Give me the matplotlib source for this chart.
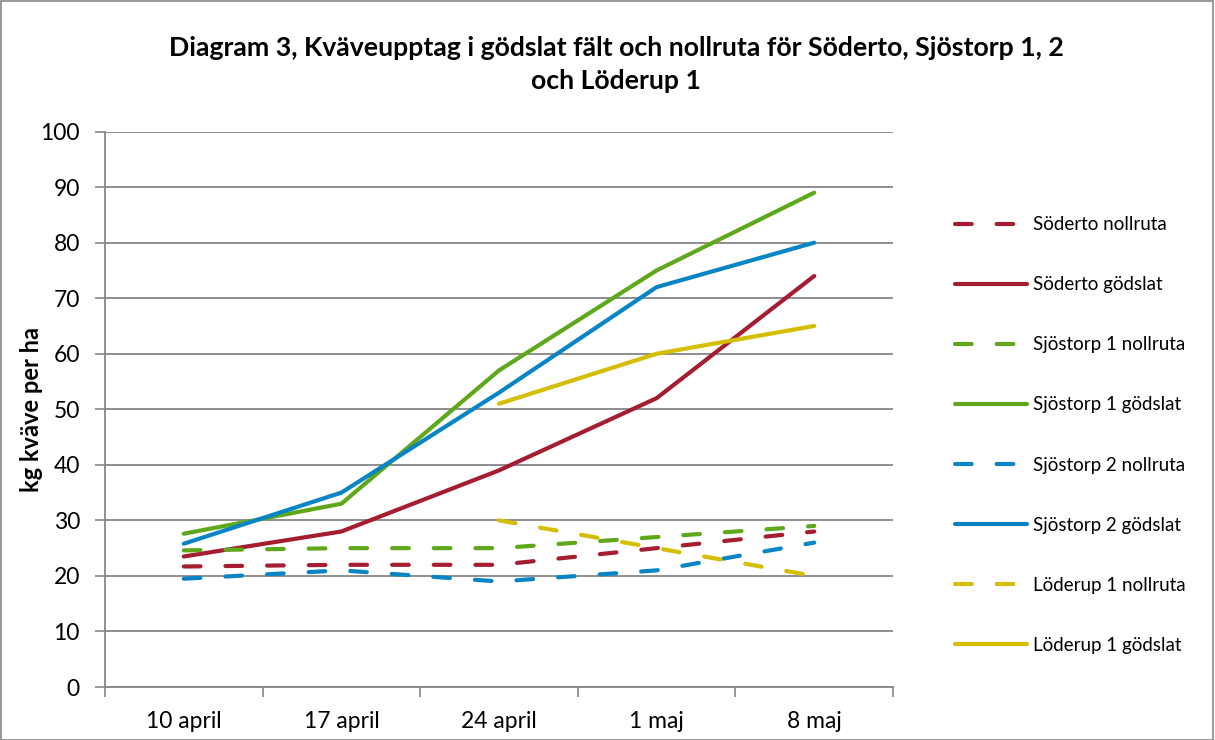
import matplotlib
matplotlib.use("Agg")
import matplotlib.pyplot as plt
import numpy as np
from matplotlib.patches import Rectangle

plt.rcParams['font.family'] = ['Lato', 'DejaVu Sans']

# data
dates = ['10 april', '17 april', '24 april', '1 maj', '8 maj']

soderto_noll = [21.7, 22.0, 22.0, 25.0, 28.0]
soderto_gods = [23.5, 28.0, 39.0, 52.0, 74.0]
sjostorp1_noll = [24.6, 25.0, 25.0, 27.0, 29.0]
sjostorp1_gods = [27.6, 33.0, 57.0, 75.0, 89.0]
sjostorp2_noll = [19.5, 21.0, 19.0, 21.0, 26.0]
sjostorp2_gods = [25.8, 35.0, 53.0, 72.0, 80.0]
loderup1_noll = [np.nan, np.nan, 30.0, 25.0, 20.0]
loderup1_gods = [np.nan, np.nan, 51.0, 60.0, 65.0]

RED = '#A61C31'
GREEN = '#5FA81C'
BLUE = '#0985C6'
YELLOW = '#D5BE00'

series = [
    ('Söderto nollruta', soderto_noll, RED, True),
    ('Söderto gödslat', soderto_gods, RED, False),
    ('Sjöstorp 1 nollruta', sjostorp1_noll, GREEN, True),
    ('Sjöstorp 1 gödslat', sjostorp1_gods, GREEN, False),
    ('Sjöstorp 2 nollruta', sjostorp2_noll, BLUE, True),
    ('Sjöstorp 2 gödslat', sjostorp2_gods, BLUE, False),
    ('Löderup 1 nollruta', loderup1_noll, YELLOW, True),
    ('Löderup 1 gödslat', loderup1_gods, YELLOW, False),
]

fig = plt.figure(figsize=(12.15, 7.4), dpi=100)
ax = fig.add_axes([0.0864, 0.0716, 0.6486, 0.7506])

x = np.arange(len(dates))
for label, vals, color, dashed in series:
    line, = ax.plot(x, vals, color=color, lw=3.0, label=label,
                    solid_capstyle='round', dash_capstyle='round',
                    solid_joinstyle='round')
    if dashed:
        line.set_dashes((4, 6))

ax.set_xlim(-0.5, len(dates) - 0.5)
ax.set_ylim(0, 100)
ax.set_yticks(np.arange(0, 101, 10))
ax.set_xticks(x)
ax.set_xticklabels(dates, fontsize=16.5)
ax.set_xticks(np.arange(-0.5, len(dates), 1), minor=True)
ax.tick_params(axis='x', which='major', length=0, pad=17)
ax.tick_params(axis='x', which='minor', length=7, width=1.2, color='#868686')
ax.tick_params(axis='y', length=7, width=1.2, color='#868686', labelsize=16.5, pad=11)

ax.grid(axis='y', color='#868686', lw=1.3)
ax.set_axisbelow(True)
for side in ['top', 'right']:
    ax.spines[side].set_visible(False)
for side in ['left', 'bottom']:
    ax.spines[side].set_color('#868686')
    ax.spines[side].set_linewidth(1.3)

ax.set_ylabel('kg kväve per ha', fontsize=17, fontweight='bold', labelpad=-2)

fig.text(0.507, 0.952, 'Diagram 3, Kväveupptag i gödslat fält och nollruta för Söderto, Sjöstorp 1, 2\noch Löderup 1',
         ha='center', va='top', fontsize=19.2, fontweight='bold', linespacing=1.45)

leg = ax.legend(loc='upper left', bbox_to_anchor=(0.786, 0.708),
                bbox_transform=fig.transFigure, frameon=False, fontsize=13.5,
                handlelength=3.84, handletextpad=0.32, labelspacing=2.3,
                borderpad=0, borderaxespad=0)

fig.patches.append(Rectangle((0.001, 0.0), 0.997, 0.998, transform=fig.transFigure,
                             fill=False, edgecolor='#868686', lw=1.2))

fig.savefig('out.png', dpi=100)
